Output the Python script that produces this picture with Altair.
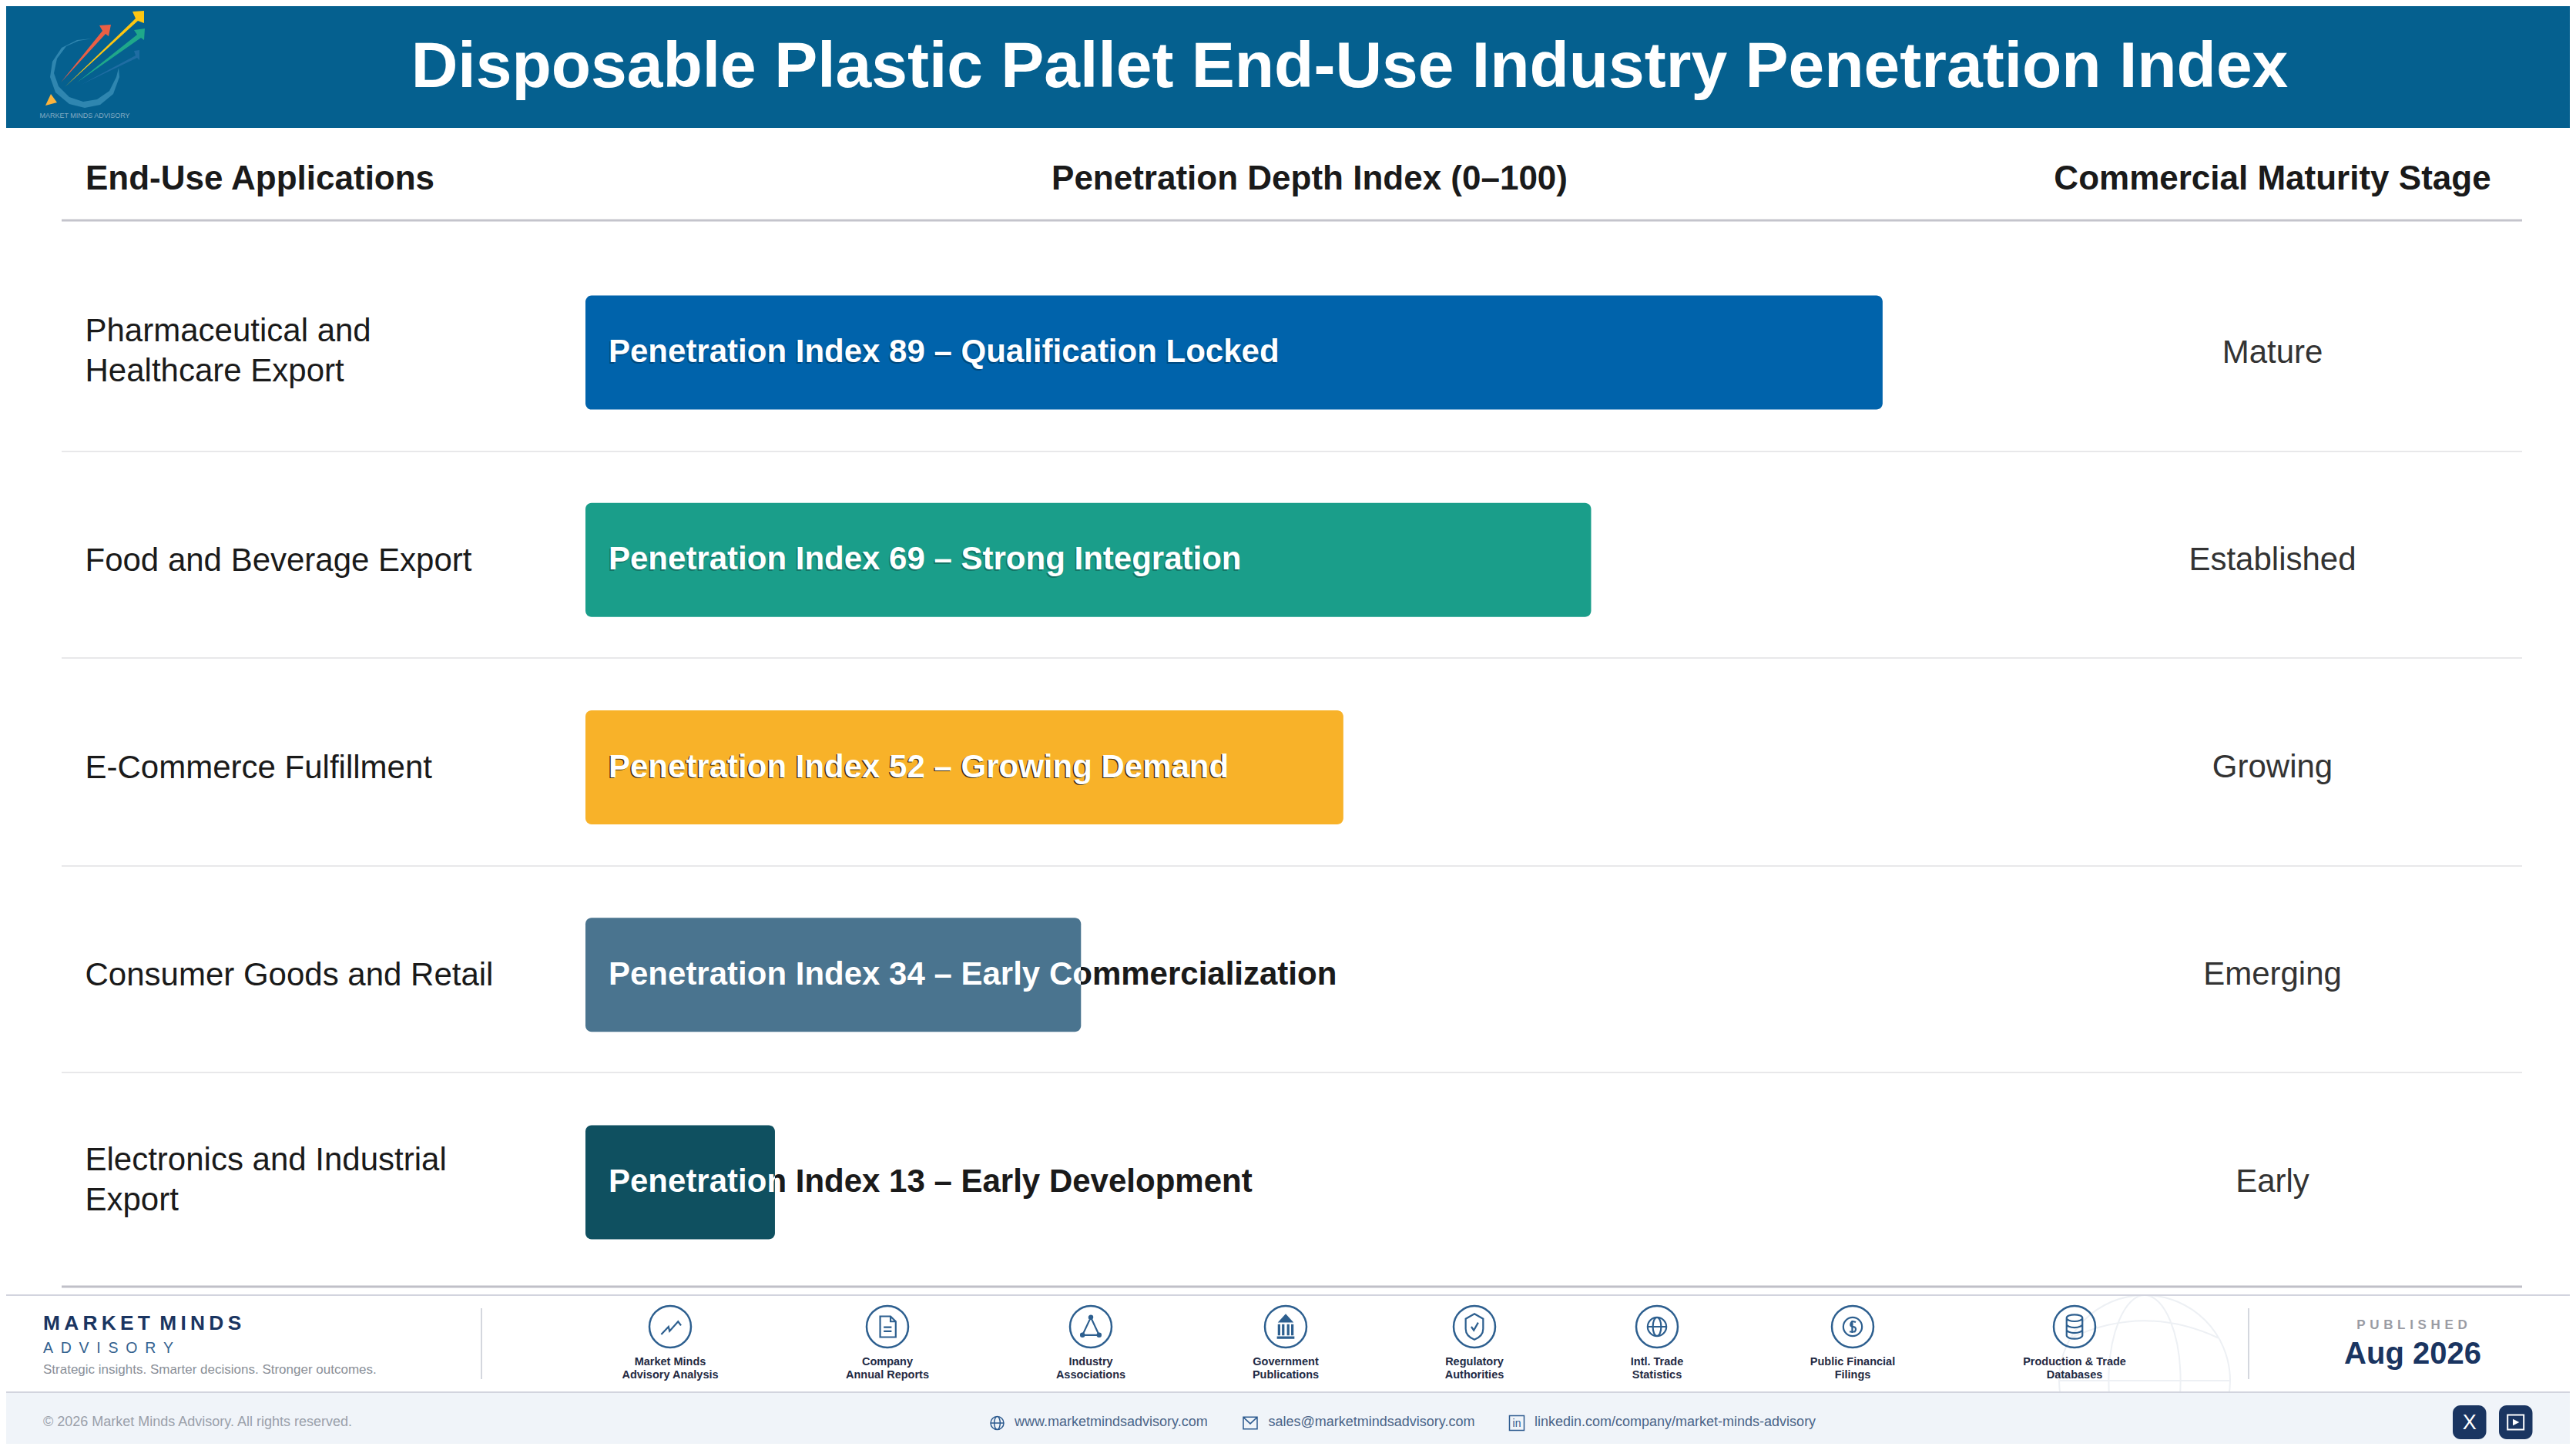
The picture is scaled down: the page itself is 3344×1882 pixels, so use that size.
import altair as alt

# chart data
categories = [
    "Pharmaceutical and\nHealthcare Export",
    "Food and Beverage Export",
    "E-Commerce Fulfillment",
    "Consumer Goods and Retail",
    "Electronics and Industrial\nExport",
]
values = [89, 69, 52, 34, 13]
stages = ["Mature", "Established", "Growing", "Emerging", "Early"]
labels = [
    "Penetration Index 89 \u2013 Qualification Locked",
    "Penetration Index 69 \u2013 Strong Integration",
    "Penetration Index 52 \u2013 Growing Demand",
    "Penetration Index 34 \u2013 Early Commercialization",
    "Penetration Index 13 \u2013 Early Development",
]
bar_colors = ["#0063ab", "#1a9e8a", "#f8b229", "#4a748f", "#0f5060"]

# footer text
source_names = [
    "Market Minds\nAdvisory Analysis", "Company\nAnnual Reports", "Industry\nAssociations",
    "Government\nPublications", "Regulatory\nAuthorities", "Intl. Trade\nStatistics",
    "Public Financial\nFilings", "Production & Trade\nDatabases",
]
source_x = [870, 1152, 1416, 1669, 1914, 2151, 2405, 2693]

FONT = "Liberation Sans"
W, H = 3328, 1866   # the page margin takes 8px each side
M = 8
RIGHT = M + W
BOTTOM = M + H
NAVY = "#1a3561"
ICON = "#2d5f8f"
INK = "#1a1a1a"

# px measured on the reference
X_RANGE = [760 - M, 2652 - M]
Y_RANGE = [323 - M, 1669 - M]
LABEL_X = 790
LABEL_SIZE = 42
LABEL_WIDTHS = [870, 822, 803, 945, 836]

x_enc = alt.X("value:Q", axis=None, stack=None, scale=alt.Scale(domain=[0, 100], range=X_RANGE))
y_enc = alt.Y("category:N", axis=None, sort=categories, scale=alt.Scale(domain=categories, range=Y_RANGE))

rows = alt.Data(values=[
    {"category": c, "value": v, "stage": s, "label": l}
    for c, v, s, l in zip(categories, values, stages, labels)
])


def text(t, x, y, size, color, weight="normal", align="left", line=None):
    kw = {"lineHeight": line} if line else {}
    return alt.Chart(alt.Data(values=[{"t": t}])).mark_text(
        font=FONT, fontSize=size, color=color, fontWeight=weight, align=align,
        baseline="alphabetic", lineBreak="\n", **kw
    ).encode(x=alt.value(x - M), y=alt.value(y - M), text="t:N")


def box(x0, y0, x1, y1, color, radius=0):
    return alt.Chart(alt.Data(values=[{}])).mark_rect(color=color, cornerRadius=radius).encode(
        x=alt.value(x0 - M), x2=alt.value(x1 - M), y=alt.value(y0 - M), y2=alt.value(y1 - M)
    )


def shape(d, cx, cy, r, color, filled=False, sw=2.0):
    # d is an svg path in -1..1, r is the pixels that 1 stands for
    return alt.Chart(alt.Data(values=[{}])).mark_point(
        shape=d, size=(2 * r) ** 2, filled=filled, color=color, strokeWidth=sw, opacity=1
    ).encode(x=alt.value(cx - M), y=alt.value(cy - M))


def poly(points, color, cx=130, cy=80, r=100):
    d = "M" + "L".join(f"{(x - cx) / r:.3f} {(y - cy) / r:.3f}" for x, y in points) + "Z"
    return shape(d, cx, cy, r, color, filled=True, sw=0)


def spaced(t, sep):
    return sep.join(t)


CIRCLE = "M-1 0A1 1 0 1 0 1 0A1 1 0 1 0 -1 0Z"
GLOBE = "M-.45 0A.45 .45 0 1 0 .45 0A.45 .45 0 1 0 -.45 0ZM-.45 0H.45M0 -.45A.2 .45 0 0 0 0 .45A.2 .45 0 0 0 0 -.45Z"
icons = [
    ("M-.43 .37L-.08 0L-.03 .21L.38 -.25L.52 -.06", False),
    ("M-.35 -.5H.15L.4 -.25V.5H-.35ZM.15 -.5V-.25H.4M-.18 .02H.2M-.18 .22H.2", False),
    ("M0 -.45L-.4 .4H.4ZM-.08 -.45A.08 .08 0 1 0 .08 -.45A.08 .08 0 1 0 -.08 -.45ZM-.48 .4A.08 .08 0 1 0 -.32 .4A.08 .08 0 1 0 -.48 .4ZM.32 .4A.08 .08 0 1 0 .48 .4A.08 .08 0 1 0 .32 .4Z", False),
    ("M0 -.62L.38 -.2H-.38ZM-.38 -.12H-.26V.42H-.38ZM-.18 -.12H-.06V.42H-.18ZM.06 -.12H.18V.42H.06ZM.26 -.12H.38V.42H.26ZM-.42 .46H.42V.58H-.42Z", True),
    ("M0 -.62L.42 -.38V.1Q.42 .45 0 .62Q-.42 .45 -.42 .1V-.38ZM-.15 0L-.03 .17L.18 -.2", False),
    (GLOBE, False),
    ("M-.45 0A.45 .45 0 1 0 .45 0A.45 .45 0 1 0 -.45 0ZM.15 -.22Q-.1 -.32 -.1 -.08Q-.1 0 .1 .02Q.2 .1 .1 .24L-.15 .24M-.02 -.3V.3", False),
    ("M-.38 -.42A.38 .16 0 1 0 .38 -.42A.38 .16 0 1 0 -.38 -.42ZM-.38 -.42V.42A.38 .16 0 0 0 .38 .42V-.42M-.38 -.12A.38 .16 0 0 0 .38 -.12M-.38 .14A.38 .16 0 0 0 .38 .14", False),
]

layers = []

# header band and logo
layers.append(box(M, M, RIGHT, 166, "#05608f"))
layers += [
    poly([(120, 50), (100, 52), (80, 62), (68, 80), (65, 100), (72, 120), (90, 135), (110, 140),
          (130, 136), (147, 122), (155, 100), (154, 88), (151, 100), (142, 118), (126, 129),
          (108, 132), (90, 126), (76, 112), (70, 95), (74, 76), (86, 60), (102, 53)], "#2f86b0"),
    poly([(105, 110), (176, 72), (174, 66), (181, 65), (181, 78), (178, 75)], "#1f6da3"),
    poly([(79, 107), (133, 40), (129, 33), (144, 32), (141, 47), (137, 44)], "#ea5f45"),
    poly([(100, 107), (178, 45), (174, 39), (188, 37), (187, 52), (183, 49)], "#1fa88a"),
    poly([(84, 113), (176, 24), (172, 15), (187, 14), (187, 30), (179, 27)], "#fdc612"),
    poly([(59, 137), (66, 122), (74, 133)], "#fbb33c"),
    text("MARKET MINDS ADVISORY", 110, 153, 9, "#86adc4", align="center"),
    text("Disposable Plastic Pallet End-Use Industry Penetration Index", 1752, 113, 84, "#ffffff",
         weight="bold", align="center"),
]

# column headers and rules
layers += [
    text("End-Use Applications", 111, 246, 44, INK, weight="bold"),
    text("Penetration Depth Index (0\u2013100)", 1700, 246, 44, INK, weight="bold", align="center"),
    text("Commercial Maturity Stage", 2950, 246, 44, INK, weight="bold", align="center"),
    box(80, 284.5, 3274, 287.5, "#c4c4cc"),
]
for y in [586, 854, 1124, 1392]:
    layers.append(box(80, y - 1, 3274, y + 1, "#e8e8ea"))
layers.append(box(80, 1668.5, 3274, 1671.5, "#c0c0c8"))

# rows
base = alt.Chart(rows)
layers.append(base.transform_filter("indexof(datum.category, '\\n') < 0").mark_text(
    font=FONT, fontSize=LABEL_SIZE, color=INK, align="left", baseline="middle", dy=1
).encode(x=alt.value(110.5 - M), y=y_enc, text="category:N"))
layers.append(base.transform_filter("indexof(datum.category, '\\n') >= 0").mark_text(
    font=FONT, fontSize=LABEL_SIZE, color=INK, align="left", baseline="middle", lineBreak="\n", lineHeight=52, dy=-28
).encode(x=alt.value(110.5 - M), y=y_enc, text="category:N"))
layers.append(base.mark_text(
    font=FONT, fontSize=LABEL_SIZE, color="#333333", align="center", baseline="middle"
).encode(x=alt.value(2950 - M), y=y_enc, text="stage:N"))
layers.append(base.mark_bar(cornerRadius=8, height=148).encode(
    x=x_enc, y=y_enc,
    color=alt.Color("category:N", legend=None, scale=alt.Scale(domain=categories, range=bar_colors)),
))

# white inside the bar, dark past its end
unit = (X_RANGE[1] - X_RANGE[0]) / 100
for i, row in enumerate(rows.values):
    edge = X_RANGE[0] + M + row["value"] * unit
    f = min(1, (edge - LABEL_X) / LABEL_WIDTHS[i])
    fill = alt.LinearGradient(gradient="linear", x1=0, x2=1, y1=0, y2=0, stops=[
        alt.GradientStop(offset=0, color="#ffffff"),
        alt.GradientStop(offset=f, color="#ffffff"),
        alt.GradientStop(offset=f, color=INK),
        alt.GradientStop(offset=1, color=INK),
    ])
    one = alt.Chart(alt.Data(values=[row]))
    if f == 1:
        layers.append(one.mark_text(
            font=FONT, fontSize=LABEL_SIZE, fontWeight="bold", color="#000000", align="left",
            baseline="middle", opacity=0.75 if values[i] == 52 else 0.25, dx=-1.5, dy=1
        ).encode(x=alt.value(LABEL_X - M), y=y_enc, text="label:N"))
    layers.append(one.mark_text(
        font=FONT, fontSize=LABEL_SIZE, fontWeight="bold", color=fill, align="left", baseline="middle", dy=-0.5
    ).encode(x=alt.value(LABEL_X - M), y=y_enc, text="label:N"))

# footer: faint globe goes under the band
GLOBE_MARK = ("M-1 0A1 1 0 1 0 1 0A1 1 0 1 0 -1 0ZM0 -1A.42 1 0 0 0 0 1A.42 1 0 0 0 0 -1Z"
              "M-1 0H1M-.86 -.5Q0 -.9 .86 -.5")
layers.append(shape(GLOBE_MARK, 2784, 1792, 111, "#edf0f4", sw=2))
layers += [
    box(M, 1680, RIGHT, 1682, "#d2d4de"),
    box(M, 1806, RIGHT, BOTTOM, "#f0f4f9"),
    box(M, 1806, RIGHT, 1808, "#d2d4de"),
    text(spaced("MARKET", "\u2009") + "\u2009 " + spaced("MINDS", "\u2009"), 56, 1725.5, 26.3, NAVY, weight="bold"),
    text(spaced("ADVISORY", "\u2002"), 56, 1756, 19.5, "#34628f"),
    text("Strategic insights. Smarter decisions. Stronger outcomes.", 56, 1783, 17, "#8a8f98"),
    box(624, 1698, 626, 1790, "#d4d7de"),
    box(2918, 1698, 2920, 1790, "#d4d7de"),
    text(spaced("PUBLISHED", "\u2004"), 3131, 1725, 17, "#9a9ca4", weight="bold", align="center"),
    text("Aug 2026", 3132, 1770, 40, NAVY, weight="bold", align="center"),
    text("\u00a9 2026 Market Minds Advisory. All rights reserved.", 56, 1851, 18, "#9aa0aa"),
]
for name, cx, (glyph, solid) in zip(source_names, source_x, icons):
    layers.append(shape(CIRCLE, cx, 1722, 27, ICON, sw=2.5))
    layers.append(shape(glyph, cx, 1722, 27, ICON, filled=solid, sw=2.2))
    layers.append(text(name, cx, 1771.5, 14.5, "#1f2a44", weight="bold", align="center", line=17.7))

# contact line
BLUE_TXT = "#4a6488"
layers += [
    shape("M-1 0A1 1 0 1 0 1 0A1 1 0 1 0 -1 0ZM-1 0H1M0 -1A.45 1 0 0 0 0 1A.45 1 0 0 0 0 -1Z", 1294.5, 1847, 8.5, "#2c5a8f", sw=1.5),
    text("www.marketmindsadvisory.com", 1317, 1851, 18, BLUE_TXT),
    shape("M-1 -.85H1V.85H-1ZM-1 -.85L0 .1L1 -.85", 1623, 1847, 9, "#2c5a8f", sw=1.5),
    text("sales@marketmindsadvisory.com", 1646.5, 1851, 18, BLUE_TXT),
    shape("M-1 -1H1V1H-1Z", 1969, 1847, 9.5, "#2c5a8f", sw=1.5),
    text("in", 1969, 1852, 14, "#2c5a8f", align="center"),
    text("linkedin.com/company/market-minds-advisory", 1992, 1851, 18, BLUE_TXT),
    box(3184, 1824, 3227.5, 1868, NAVY, radius=10),
    text("X", 3205.7, 1855, 27, "#ffffff", align="center"),
    box(3244, 1824, 3287.5, 1868, NAVY, radius=10),
    shape("M-1 -.9H1V.9H-1Z", 3265.7, 1846, 10.5, "#ffffff", sw=2),
    shape("M-.35 -.4L.45 0L-.35 .4Z", 3265.7, 1846, 10.5, "#ffffff", filled=True, sw=0),
]

chart = alt.layer(*layers).properties(
    width=W, height=H, padding=0, background="#ffffff",
    autosize=alt.AutoSizeParams(type="none"),
).configure_view(stroke=None)

chart.save("out.html", embed_options={"renderer": "svg", "actions": False})
